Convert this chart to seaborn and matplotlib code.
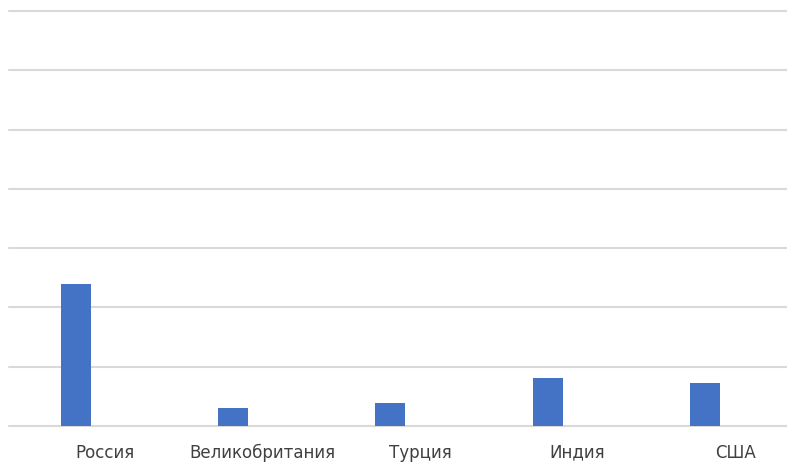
import matplotlib
matplotlib.use("Agg")
import matplotlib.pyplot as plt
import numpy as np
import pandas as pd
import seaborn as sns

countries = ["Россия", "Великобритания", "Турция", "Индия", "США"]
values = [2.39, 0.30, 0.38, 0.81, 0.73]
series = ["Ряд 1", "Ряд 2", "Ряд 3"]
y_ticks = [0, 1, 2, 3, 4, 5, 6, 7]

df = pd.DataFrame({"country": countries, "value": values, "series": series[0]})

sns.set_theme(style="white")
plt.rcParams["font.family"] = ["DejaVu Sans"]

fig = plt.figure(figsize=(7.87, 4.64), dpi=100)
ax = fig.add_axes([9 / 787, 37 / 464, 778 / 787, 415 / 464])

sns.barplot(data=df, x="country", y="value", hue="series", hue_order=series,
            palette=["#4472c4", "#ed7d31", "#a5a5a5"], width=0.57, dodge=True,
            saturation=1, legend=False, ax=ax)
for p in ax.patches:
    p.set_edgecolor("none")

ax.set_xlim(-0.613, 4.33)
ax.set_ylim(0, 7)
ax.set_yticks(y_ticks)
ax.yaxis.grid(True, color="#d9d9d9", linewidth=1.5)
for gl in ax.get_ygridlines():
    gl.set_clip_on(False)
ax.set_axisbelow(True)
ax.tick_params(axis="y", left=False, labelleft=False)
ax.tick_params(axis="x", bottom=False, pad=6, labelsize=12, labelcolor="#404040")
ax.set_xlabel("")
ax.set_ylabel("")
for s in ax.spines.values():
    s.set_visible(False)

fig.savefig("out.png", dpi=100)
